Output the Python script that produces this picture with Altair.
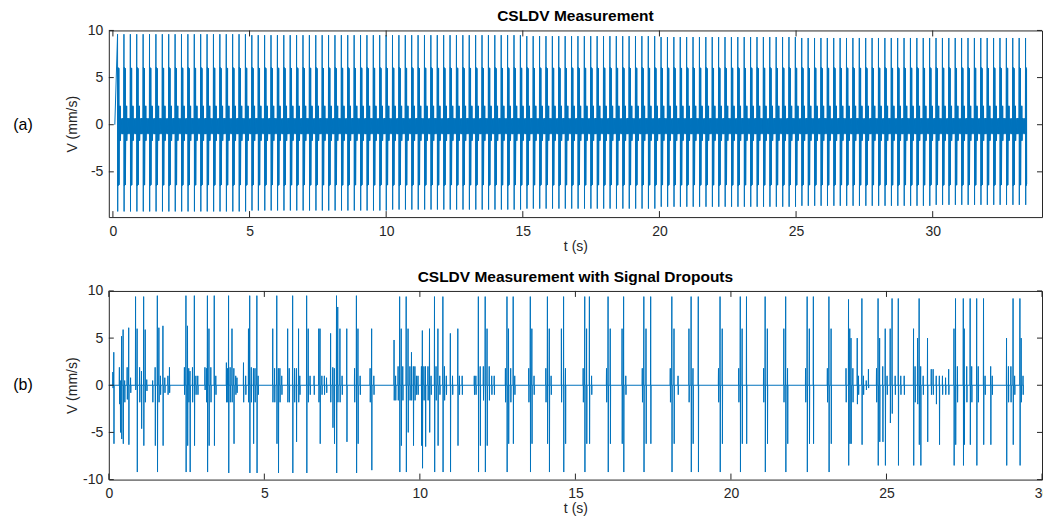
import altair as alt
import pandas as pd

FONT = "Liberation Sans"
AXC = "#262626"
LINE = "#0072BD"

# ---------------- panel (a): CSLDV measurement ----------------
a_start_time = 0.07        # s, first sample
a_first_spike = 0.17       # s, first tall spike
a_period = 0.234           # s, spacing of the tall spikes
a_end_time = 33.45         # s, end of record
a_block_start = [0, 5, 10, 15, 20, 25, 30]               # s
a_block_max = [9.6, 9.5, 9.5, 9.4, 9.3, 9.2, 9.2]        # mm/s
a_block_min = [-9.2, -9.1, -9.0, -8.9, -8.7, -8.6, -8.5] # mm/s
# one scan cycle after the tall spike: offset (s), upper, lower (mm/s)
a_cyc_off = [0.012, 0.024, 0.036, 0.048, 0.072, 0.086, 0.100, 0.125, 0.150, 0.175, 0.200, 0.220]
a_cyc_hi = [6.1, 6.0, 5.9, 6.0, 2.0, 1.9, 2.0, 0.7, 0.6, 0.7, 0.6, 0.7]
a_cyc_lo = [-6.5, -6.4, -6.3, -6.4, -1.7, -1.6, -1.7, -1.0, -0.9, -1.0, -0.9, -1.0]

# ---------------- panel (b): measurement with dropouts ----------------
b_end_time = 29.42
b_t = [0.13, 0.16, 0.34, 0.37, 0.41, 0.46, 0.51, 0.59, 0.64, 0.70, 0.86, 0.91, 0.99, 1.05, 1.12, 1.17, 1.22,
       1.41, 1.49, 1.56, 1.61, 1.66, 1.74, 1.80, 1.90, 1.95, 2.43, 2.48, 2.53, 2.57, 2.61, 2.69, 2.75, 2.80, 2.86,
       3.09, 3.14, 3.17, 3.22, 3.28, 3.39, 3.44, 3.78, 3.82, 3.85, 3.90, 3.96, 4.02, 4.08, 4.12,
       4.33, 4.40, 4.49, 4.53, 4.58, 4.65, 4.70, 4.76, 4.80, 5.27, 5.33, 5.40, 5.45, 5.50, 5.56,
       5.75, 5.80, 5.91, 5.97, 6.03, 6.10, 6.14, 6.36, 6.41, 6.47, 6.60, 6.75, 6.79, 6.85, 6.93, 7.00,
       7.13, 7.20, 7.25, 7.32, 7.36, 7.43, 7.50, 7.65, 7.90, 7.96, 8.01, 8.08, 8.40, 8.45, 8.52,
       9.17, 9.22, 9.30, 9.35, 9.40, 9.45, 9.56, 9.62, 9.68, 9.73, 9.79, 9.84, 9.89, 9.94,
       10.05, 10.08, 10.13, 10.18, 10.26, 10.31, 10.36, 10.47, 10.52, 10.58, 10.64, 10.74, 10.79, 10.85,
       10.98, 11.05, 11.22, 11.27, 11.36, 11.75, 11.80, 11.88, 11.94, 12.04, 12.10, 12.16, 12.23, 12.31, 12.39,
       12.75, 12.80, 12.85, 12.92, 13.00, 13.05,
       13.50, 13.55, 13.60, 13.67, 14.05, 14.10, 14.16, 14.22, 14.55, 14.62, 14.68,
       15.25, 15.30, 15.36, 15.45, 15.52, 16.00, 16.05, 16.12, 16.50, 16.55, 16.62,
       17.15, 17.20, 17.27, 17.42, 18.05, 18.10, 18.17, 18.30, 18.65, 18.72, 18.78, 18.95,
       19.60, 19.65, 19.72, 20.25, 20.30, 20.36, 20.50, 21.05, 21.10, 21.17, 21.70, 21.76, 21.82,
       22.40, 22.45, 22.52, 22.65, 23.10, 23.15, 23.22,
       23.70, 23.78, 23.82, 23.86, 23.92, 24.06, 24.10, 24.21, 24.26, 24.35, 24.42,
       24.68, 24.73, 24.78, 24.88, 24.96, 25.02, 25.12, 25.18, 25.28, 25.38, 25.46, 25.57,
       25.87, 25.92, 26.00, 26.05, 26.10, 26.18, 26.32, 26.44, 26.50, 26.60, 26.70, 26.80, 26.90, 27.00,
       27.17, 27.22, 27.28, 27.47, 27.50, 27.58, 27.69, 27.74, 27.90, 27.95, 28.12, 28.17, 28.35, 28.40,
       28.86, 28.92, 29.00, 29.07, 29.12, 29.29, 29.33, 29.39]
b_hi = [1.4, 3.5, 1.9, 0.5, 5.2, 5.9, 0.5, 1.9, 6.1, 0.8, 9.4, 6.0, 1.9, 1.5, 9.4, 5.9, 0.6,
        0.5, 1.9, 9.5, 6.1, 1.0, 6.3, 0.8, 1.0, 1.9, 1.9, 9.5, 6.3, 1.8, 1.5, 1.9, 9.5, 1.0, 1.0,
        1.9, 1.8, 9.5, 6.0, 1.9, 9.5, 1.0, 2.4, 1.8, 9.5, 1.9, 6.0, 1.8, 1.0, 0.8,
        2.4, 1.0, 6.0, 9.5, 1.9, 1.8, 1.8, 9.5, 1.0, 6.0, 1.8, 9.5, 1.8, 1.8, 1.0,
        6.0, 1.8, 9.5, 1.8, 1.8, 6.0, 1.0, 9.5, 6.0, 1.0, 1.0, 6.0, 6.0, 1.0, 1.0, 0.8,
        5.5, 1.9, 1.8, 9.5, 8.3, 6.0, 1.0, 6.0, 1.8, 9.5, 6.0, 1.0, 1.8, 6.0, 1.0,
        4.8, 1.0, 2.0, 9.4, 6.0, 2.0, 9.4, 6.0, 2.0, 3.5, 2.0, 2.0, 1.0, 1.0,
        2.0, 5.8, 2.0, 2.0, 2.0, 6.0, 1.0, 9.4, 2.0, 6.0, 1.0, 9.4, 2.0, 1.0,
        5.5, 1.0, 6.0, 1.0, 1.0, 1.0, 1.0, 9.4, 2.0, 2.0, 9.4, 6.0, 2.0, 1.0, 1.0,
        1.8, 9.4, 6.0, 1.8, 9.4, 1.0,
        1.8, 9.4, 6.0, 1.0, 1.8, 9.4, 6.0, 1.0, 6.0, 9.4, 1.8,
        1.8, 9.4, 6.0, 9.4, 1.0, 1.8, 9.4, 6.0, 6.0, 9.4, 1.0,
        1.8, 9.4, 6.0, 9.4, 1.8, 9.4, 6.0, 1.0, 6.0, 9.4, 1.8, 9.4,
        1.8, 9.4, 6.0, 1.8, 9.4, 6.0, 9.4, 1.8, 9.4, 6.0, 6.0, 9.4, 1.8,
        1.8, 9.4, 6.0, 9.4, 1.8, 9.4, 6.0,
        1.8, 9.1, 6.0, 5.0, 1.8, 5.0, 1.0, 9.2, 1.0, 0.5, 1.7,
        1.8, 9.2, 5.0, 2.0, 6.0, 1.0, 6.0, 9.2, 1.0, 9.2, 1.0, 1.0,
        6.0, 2.0, 5.0, 9.2, 2.0, 1.0, 5.0, 1.7, 1.7, 1.0, 1.0, 1.0, 0.8, 1.7,
        6.0, 9.2, 2.0, 9.2, 6.0, 2.0, 9.2, 2.0, 9.2, 2.0, 9.2, 1.0, 2.0, 1.0,
        5.0, 2.0, 2.0, 9.2, 1.0, 9.2, 5.0, 1.0]
b_lo = [-0.3, -6.2, -2.0, -5.0, -5.7, -6.2, -1.8, -1.5, -6.3, -0.8, -0.5, -9.2, -1.8, -4.6, -6.4, -1.8, -0.6,
        -1.8, -6.4, -9.2, -1.8, -1.0, -6.4, -0.8, -1.0, -0.8, -1.0, -9.2, -6.4, -1.8, -9.2, -1.8, -6.4, -1.0, -1.0,
        -0.5, -1.8, -9.2, -6.4, -1.8, -6.4, -1.0, -1.8, -1.8, -9.3, -1.8, -1.8, -6.2, -1.0, -0.8,
        -1.8, -1.0, -1.8, -9.3, -1.8, -6.2, -1.8, -9.3, -1.0, -1.8, -1.8, -6.2, -9.3, -1.8, -1.0,
        -1.8, -1.8, -9.3, -1.8, -6.0, -1.8, -1.0, -9.3, -1.8, -1.0, -1.0, -1.8, -6.2, -1.0, -1.0, -0.8,
        -1.8, -4.5, -6.2, -9.3, -1.8, -1.8, -1.0, -6.0, -1.8, -9.3, -6.2, -1.0, -1.8, -9.0, -1.0,
        -1.6, -1.6, -1.6, -9.2, -6.4, -1.6, -9.2, -5.0, -1.6, -1.6, -6.4, -1.6, -1.0, -1.0,
        -6.4, -8.8, -1.6, -6.5, -1.6, -5.0, -1.0, -9.2, -1.6, -6.4, -1.0, -9.2, -1.6, -1.0,
        -9.2, -1.0, -6.4, -1.0, -1.0, -1.0, -1.0, -9.2, -6.4, -1.6, -9.2, -6.4, -1.6, -1.0, -1.0,
        -1.8, -9.2, -6.2, -1.8, -6.2, -1.0,
        -1.8, -9.2, -6.2, -1.0, -1.8, -6.2, -9.2, -1.0, -1.8, -9.2, -6.2,
        -1.8, -9.2, -6.2, -6.2, -1.0, -1.8, -9.2, -6.2, -6.2, -9.2, -1.0,
        -1.8, -9.2, -6.2, -6.2, -1.8, -9.2, -6.2, -1.0, -1.8, -9.2, -6.2, -9.2,
        -1.8, -9.2, -6.2, -1.8, -9.2, -6.2, -6.2, -1.8, -9.2, -6.2, -1.8, -9.2, -6.2,
        -1.8, -9.2, -6.2, -6.2, -1.8, -9.2, -6.2,
        -1.8, -8.5, -6.2, -6.2, -1.8, -2.0, -1.0, -6.3, -1.0, -0.5, -0.3,
        -1.8, -8.5, -6.0, -6.0, -8.5, -1.0, -4.0, -3.0, -1.0, -8.5, -1.0, -1.0,
        -8.5, -1.8, -2.0, -6.3, -8.5, -1.0, -6.0, -1.0, -1.0, -2.0, -6.3, -1.0, -1.0, -1.0,
        -8.5, -6.3, -1.8, -8.5, -6.3, -1.8, -6.3, -1.8, -8.5, -1.8, -6.3, -1.0, -6.3, -1.0,
        -8.5, -1.8, -1.8, -6.3, -1.0, -8.5, -1.8, -1.0]


def block_value(t, starts, vals):
    v = vals[0]
    for s, x in zip(starts, vals):
        if t >= s:
            v = x
    return v


# build panel (a) trace
a_rows = [(a_start_time, 0.0)]
k = 0
while True:
    t0 = a_first_spike + k * a_period
    if t0 > a_end_time:
        break
    a_rows.append((t0, block_value(t0, a_block_start, a_block_max)))
    a_rows.append((t0 + 0.006, block_value(t0, a_block_start, a_block_min)))
    for off, hi, lo in zip(a_cyc_off, a_cyc_hi, a_cyc_lo):
        if t0 + off + 0.006 <= a_end_time:
            a_rows.append((t0 + off, hi))
            a_rows.append((t0 + off + 0.006, lo))
    k += 1
df_a = pd.DataFrame(a_rows, columns=["t", "v"])

# build panel (b) trace (zero between the measured bursts)
b_rows = [(0.0, 0.0)]
for t, hi, lo in sorted(zip(b_t, b_hi, b_lo)):
    b_rows += [(t - 0.006, 0.0), (t, hi), (t + 0.006, lo), (t + 0.012, 0.0)]
b_rows.append((b_end_time, 0.0))
df_b = pd.DataFrame(b_rows, columns=["t", "v"])

W = 935


def panel(df, xdom, ydom, xticks, yticks, h, title, tag, sw):
    xs = alt.Scale(domain=xdom, nice=False, zero=False)
    ys = alt.Scale(domain=ydom, nice=False, zero=False)
    common = dict(labelFont=FONT, labelFontSize=14, labelColor=AXC, titleFont=FONT,
                  titleFontSize=14, titleFontWeight="normal", titleColor=AXC,
                  ticks=False, domain=False, grid=False, labelFlush=False,
                  labelExpr="'' + datum.value")
    xax = alt.Axis(values=xticks, title="t (s)", labelPadding=7, titleY=29,
                   titleBaseline="middle", **common)
    yax = alt.Axis(values=yticks, title="V (mm/s)", labelPadding=6, titleX=-36,
                   titleBaseline="middle", **common)
    line = alt.Chart(df).mark_line(color=LINE, strokeWidth=sw).encode(
        x=alt.X("t:Q", scale=xs, axis=xax),
        y=alt.Y("v:Q", scale=ys, axis=yax),
    )
    xt = pd.DataFrame({"t": xticks})
    yt = pd.DataFrame({"v": yticks})
    xt_top = alt.Chart(xt).mark_rule(color=AXC, strokeWidth=1).encode(
        x=alt.X("t:Q", scale=xs, axis=xax), y=alt.value(0), y2=alt.value(6))
    xt_bot = alt.Chart(xt).mark_rule(color=AXC, strokeWidth=1).encode(
        x=alt.X("t:Q", scale=xs, axis=xax), y=alt.value(h - 6), y2=alt.value(h))
    yt_l = alt.Chart(yt).mark_rule(color=AXC, strokeWidth=1).encode(
        y=alt.Y("v:Q", scale=ys, axis=yax), x=alt.value(0), x2=alt.value(5))
    yt_r = alt.Chart(yt).mark_rule(color=AXC, strokeWidth=1).encode(
        y=alt.Y("v:Q", scale=ys, axis=yax), x=alt.value(W - 5), x2=alt.value(W))
    lab = alt.Chart(pd.DataFrame({"v": [0]})).mark_text(
        font=FONT, fontSize=16, color="#000000", align="center", baseline="middle").encode(
        x=alt.value(-86), y=alt.Y("v:Q", scale=ys, axis=yax), text=alt.value(tag))
    ttl = alt.Chart(pd.DataFrame({"v": [0]})).mark_text(
        font=FONT, fontSize=15.5, fontWeight="bold", color="#000000", align="center",
        baseline="alphabetic").encode(
        x=alt.value(W / 2), y=alt.value(-9), text=alt.value(title))
    return alt.layer(line, xt_top, xt_bot, yt_l, yt_r, lab, ttl).properties(width=W, height=h)


top = panel(df_a, [-0.15, 34.0], [-9.8, 10.0], [0, 5, 10, 15, 20, 25, 30], [-5, 0, 5, 10],
            187, "CSLDV Measurement", "(a)", 1.0)
bot = panel(df_b, [0.0, 30.0], [-10.0, 10.0], [0, 5, 10, 15, 20, 25, 30], [-10, -5, 0, 5, 10],
            189, "CSLDV Measurement with Signal Dropouts", "(b)", 1.0)

chart = alt.vconcat(top, bot, spacing=15, background="white").properties(
    padding={"left": 4, "top": 0, "right": -8, "bottom": 0}
).configure_view(stroke=AXC, strokeWidth=1)

chart.save("out.html", embed_options={"renderer": "svg", "actions": False})
